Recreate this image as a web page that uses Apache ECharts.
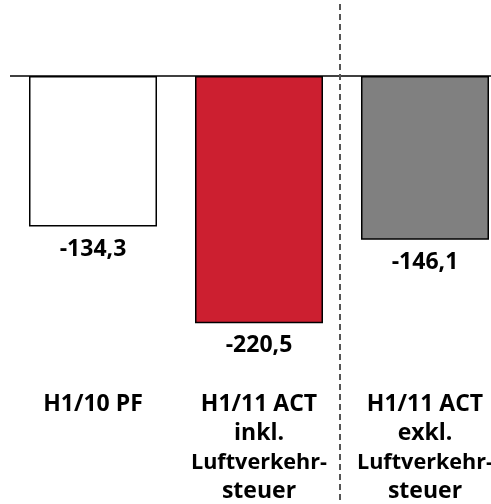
<!DOCTYPE html>
<html>
<head>
<meta charset="utf-8">
<script src="https://cdn.jsdelivr.net/npm/echarts@6/dist/echarts.min.js"></script>
<style>
  html, body { margin: 0; padding: 0; background: #fff; }
  #main { width: 491px; height: 504px; }
</style>
</head>
<body>
<div id="main"></div>
<script>
// data
const categories = ['H1/10 PF', 'H1/11 ACT\ninkl.\nLuftverkehr-\nsteuer', 'H1/11 ACT\nexkl.\nLuftverkehr-\nsteuer'];
const values = [-134.3, -220.5, -146.1];
const barColors = ['#ffffff', '#cc1f30', '#808080'];

const font = '"Open Sans", sans-serif';
const myChart = echarts.init(document.getElementById('main'));

const labelStyle = {
  color: '#000',
  fontFamily: font,
  fontWeight: 'bold',
  lineHeight: 29
};

const option = {
  animation: false,
  grid: {
    left: 10,
    top: 76,
    width: 498,
    height: 314,
    outerBoundsMode: 'none',
    containLabel: false
  },
  xAxis: {
    type: 'category',
    data: categories,
    axisLine: { show: false },
    axisTick: { show: false },
    axisLabel: {
      interval: 0,
      margin: 0,
      color: '#000',
      fontFamily: font,
      fontWeight: 'bold',
      fontSize: 23,
      lineHeight: 29,
      // 长单词稍微缩小一点
      formatter: function (v) {
        return v.split('\n').map(function (line) {
          return line.length > 10 ? '{s|' + line + '}' : '{n|' + line + '}';
        }).join('\n');
      },
      rich: {
        n: Object.assign({ fontSize: 23 }, labelStyle),
        s: Object.assign({ fontSize: 21.6 }, labelStyle)
      }
    }
  },
  yAxis: {
    type: 'value',
    min: -280,
    max: 0,
    show: false,
    splitLine: { show: false }
  },
  series: [
    {
      type: 'bar',
      barWidth: 128,
      data: values.map((v, i) => ({
        value: v,
        itemStyle: { color: barColors[i] }
      })),
      itemStyle: {
        borderColor: '#000',
        borderWidth: 1.5
      },
      label: {
        show: true,
        position: 'bottom',
        distance: 11,
        color: '#000',
        fontFamily: font,
        fontWeight: 'bold',
        fontSize: 23,
        formatter: function (p) {
          return p.value.toFixed(1).replace('.', ',');
        }
      },
      markLine: {
        silent: true,
        symbol: 'none',
        label: { show: false },
        lineStyle: { color: '#000', width: 1.5, type: 'solid' },
        data: [{ yAxis: 0 }]
      }
    }
  ]
};
myChart.setOption(option);

// 分隔线：第2和第3类之间
const x1 = myChart.convertToPixel({ xAxisIndex: 0 }, 1);
const x2 = myChart.convertToPixel({ xAxisIndex: 0 }, 2);
const sepX = (x1 + x2) / 2 - 2;
myChart.setOption({
  graphic: [{
    type: 'line',
    shape: { x1: sepX, y1: 4, x2: sepX, y2: 504 },
    style: { stroke: '#555', lineWidth: 2, lineDash: [6, 4] },
    z: 10
  }]
});

window.addEventListener('resize', function () {
  myChart.resize();
});
</script>
</body>
</html>
